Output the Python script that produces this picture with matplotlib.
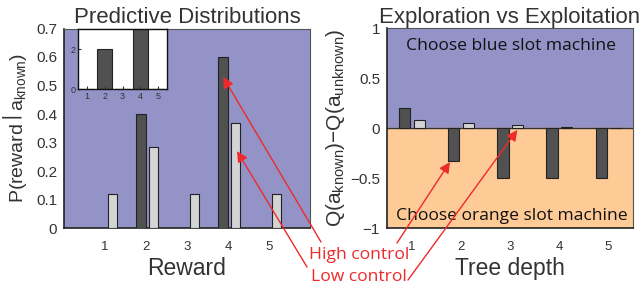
import matplotlib
matplotlib.use("Agg")
import matplotlib.pyplot as plt
import numpy as np

plt.rcParams['font.family'] = ['Liberation Sans', 'DejaVu Sans']
plt.rcParams['mathtext.default'] = 'regular'

# ---- data ----
rewards = [1, 2, 3, 4, 5]
pred_high = [0.0, 0.40, 0.0, 0.60, 0.0]
pred_low = [0.12, 0.285, 0.12, 0.37, 0.12]
inset_counts = [0, 2, 0, 3, 0]

depths = [1, 2, 3, 4, 5]
q_high = [0.20, -0.33, -0.50, -0.50, -0.50]
q_low = [0.08, 0.047, 0.027, 0.01, 0.004]

BLUE = '#9393C8'
ORANGE = '#FECB97'
DARK = '#515151'
LIGHT = '#D4D4D4'
RED = '#EE2A2A'
TXT = '#333333'
ANN_FONT = ['Open Sans', 'DejaVu Sans']

W, H = 640, 293
fig = plt.figure(figsize=(6.4, 2.93), dpi=100)

def px(x, y):
    return (x / W, 1 - y / H)

# ---- left panel ----
ax1 = fig.add_axes([64 / W, 1 - 228 / H, 246 / W, 199.5 / H])
ax1.set_facecolor(BLUE)
x = np.array(rewards, dtype=float)
ax1.bar(x - 0.12, pred_high, width=0.23, color=DARK, edgecolor='#222222', linewidth=0.8, zorder=3)
ax1.bar(x + 0.18, pred_low, width=0.22, color=LIGHT, edgecolor='#222222', linewidth=0.8, zorder=3)
ax1.set_xlim(0, 6)
ax1.set_ylim(0, 0.7)
ax1.set_xticks(rewards)
ax1.set_yticks(np.arange(0, 0.71, 0.1))
ax1.set_yticklabels(['0', '0.1', '0.2', '0.3', '0.4', '0.5', '0.6', '0.7'])
ax1.tick_params(axis='both', length=0, labelsize=11, colors=TXT, pad=5)
ax1.tick_params(axis='x', labelsize=9.5, pad=9)
ax1.set_title('Predictive Distributions', fontsize=16, color=TXT, pad=3)
ax1.set_xlabel('Reward', fontsize=16.5, color=TXT, labelpad=3)
ax1.set_ylabel(r'P(reward$\,\left|\right.\,$a$_{known}$)', fontsize=14, color=TXT, labelpad=5)
for s in ['left', 'bottom']:
    ax1.spines[s].set_color('#222222')
    ax1.spines[s].set_linewidth(1.2)
for s in ['top', 'right']:
    ax1.spines[s].set_color('#555555')
    ax1.spines[s].set_linewidth(0.8)

# ---- inset ----
axi = fig.add_axes([78 / W, 1 - 89 / H, 89 / W, 60 / H])
axi.set_facecolor('white')
axi.bar(rewards, inset_counts, width=0.82, color=DARK, edgecolor='#222222', linewidth=0.8)
axi.set_xlim(0.5, 5.5)
axi.set_ylim(0, 3)
axi.set_xticks(rewards)
axi.set_yticks([0, 2])
axi.tick_params(axis='both', length=2, direction='in', labelsize=6.5, colors=TXT, pad=2)
for s in axi.spines.values():
    s.set_color('#111111')
    s.set_linewidth(1.0)

# ---- right panel ----
ax2 = fig.add_axes([387 / W, 1 - 228 / H, 246 / W, 200 / H])
ax2.axhspan(0, 1, color=BLUE, zorder=0)
ax2.axhspan(-1, 0, color=ORANGE, zorder=0)
d = np.array(depths, dtype=float)
ax2.bar(d - 0.145, q_high, width=0.23, color=DARK, edgecolor='#222222', linewidth=0.8, zorder=3)
ax2.bar(d + 0.155, q_low, width=0.23, color=LIGHT, edgecolor='#222222', linewidth=0.8, zorder=3)
ax2.axhline(0, color='#333333', linewidth=1.0, zorder=2)
ax2.set_xlim(0.5, 5.5)
ax2.set_ylim(-1, 1)
ax2.set_xticks(depths)
ax2.set_yticks([-1, -0.5, 0, 0.5, 1])
ax2.set_yticklabels(['\u22121', '\u22120.5', '0', '0.5', '1'])
ax2.tick_params(axis='both', length=0, labelsize=11, colors=TXT, pad=5)
ax2.tick_params(axis='x', labelsize=9.5, pad=9)
ax2.set_title('Exploration vs Exploitation', fontsize=16, color=TXT, pad=3)
ax2.set_xlabel('Tree depth', fontsize=16.5, color=TXT, labelpad=3)
ax2.set_ylabel(r'Q(a$_{known}$)$-$Q(a$_{unknown}$)', fontsize=15, color=TXT, labelpad=2)
for s in ['left', 'bottom']:
    ax2.spines[s].set_color('#222222')
    ax2.spines[s].set_linewidth(1.2)
for s in ['top', 'right']:
    ax2.spines[s].set_color('#555555')
    ax2.spines[s].set_linewidth(0.8)
ax2.text(3.03, 0.82, 'Choose blue slot machine', ha='center', va='center',
         fontsize=12.6, color='#111111', family=ANN_FONT)
ax2.text(3.03, -0.88, 'Choose orange slot machine', ha='center', va='center',
         fontsize=12.6, color='#111111', family=ANN_FONT)

# ---- annotations ----
fig.text(*px(409, 255), 'High control', ha='right', va='center', fontsize=12.6,
         color=RED, family=ANN_FONT)
fig.text(*px(407, 277), 'Low control', ha='right', va='center', fontsize=12.6,
         color=RED, family=ANN_FONT)

aprops = dict(arrowstyle='-|>', color=RED, lw=1.0, mutation_scale=16,
              shrinkA=0, shrinkB=0)
for ax, tip, start in [
    (ax1, (3.88, 0.53), (321, 242)),
    (ax1, (4.22, 0.27), (307, 267)),
    (ax2, (1.78, -0.34), (397, 243)),
    (ax2, (3.15, -0.02), (408, 280)),
]:
    ax.annotate('', xy=tip, xycoords='data', xytext=px(*start),
                textcoords='figure fraction', arrowprops=aprops,
                annotation_clip=False, zorder=10)

fig.savefig('out.png', dpi=100)
